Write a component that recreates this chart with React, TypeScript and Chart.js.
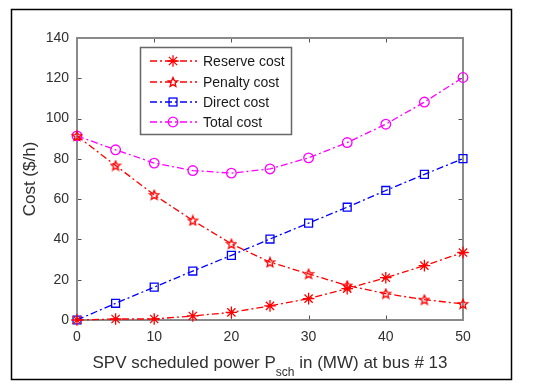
import React, { useEffect, useRef } from "react";
import { Chart, registerables } from "chart.js";

Chart.register(...registerables);

const xValues = [0, 5, 10, 15, 20, 25, 30, 35, 40, 45, 50];
const reserveCost = [0, 0.5, 0.5, 2, 3.8, 7, 10.6, 15.6, 21, 27, 33.5];
const penaltyCost = [91.4, 76.7, 62.1, 49.4, 37.8, 28.7, 22.9, 17.1, 13.1, 10.1, 8];
const directCost = [0, 8.3, 16.3, 24.3, 32.1, 40.2, 48.1, 56, 64.3, 72.3, 80.1];
const totalCost = [91.4, 84.5, 77.9, 74.2, 72.9, 75, 80.5, 88.1, 97.2, 108.2, 120.4];
const seriesLabels = ["Reserve cost", "Penalty cost", "Direct cost", "Total cost"];
const seriesColors = ["#ff0000", "#ff0000", "#0000ff", "#ff00ff"];
const xTickValues = [0, 10, 20, 30, 40, 50];
const yTickValues = [0, 20, 40, 60, 80, 100, 120, 140];
const yTitle = "Cost ($/h)";
const xTitleMain = "SPV scheduled power P";
const xTitleSub = "sch";
const xTitleRest = " in (MW) at bus # 13";

const FONT = "'Liberation Sans', Arial, Helvetica, sans-serif";
const DASH = [7, 3, 2, 3];
const TEXT = "#303030";

function makePentagram(color: string) {
  const size = 12;
  const c = document.createElement("canvas");
  c.width = size;
  c.height = size;
  const ctx = c.getContext("2d")!;
  ctx.strokeStyle = color;
  ctx.lineWidth = 1.3;
  ctx.beginPath();
  const r = 4.9;
  const cx = size / 2;
  const cy = size / 2 + 0.4;
  for (let i = 0; i < 10; i++) {
    const a = -Math.PI / 2 + (i * Math.PI) / 5;
    const rad = i % 2 ? r * 0.45 : r;
    const px = cx + Math.cos(a) * rad;
    const py = cy + Math.sin(a) * rad;
    if (i === 0) ctx.moveTo(px, py);
    else ctx.lineTo(px, py);
  }
  ctx.closePath();
  ctx.stroke();
  return c;
}

function drawMarker(ctx: CanvasRenderingContext2D, style: any, x: number, y: number, r: number, color: string) {
  ctx.save();
  ctx.strokeStyle = color;
  ctx.lineWidth = 1.3;
  ctx.setLineDash([]);
  if (typeof style !== "string") {
    ctx.drawImage(style, x - style.width / 2, y - style.height / 2);
  } else if (style === "star") {
    ctx.beginPath();
    for (let i = 0; i < 4; i++) {
      const a = (i * Math.PI) / 4;
      ctx.moveTo(x - Math.cos(a) * r, y - Math.sin(a) * r);
      ctx.lineTo(x + Math.cos(a) * r, y + Math.sin(a) * r);
    }
    ctx.stroke();
  } else if (style === "rect") {
    const h = r * Math.SQRT1_2;
    ctx.strokeRect(x - h, y - h, 2 * h, 2 * h);
  } else {
    ctx.beginPath();
    ctx.arc(x, y, r, 0, Math.PI * 2);
    ctx.stroke();
  }
  ctx.restore();
}

export default function App() {
  const ref = useRef<HTMLCanvasElement>(null);

  useEffect(() => {
    const pent = makePentagram("#ff0000");
    const styles: any[] = ["star", pent, "rect", "circle"];
    const radii = [5.8, 5.5, 5.6, 4.8];
    const seriesData = [reserveCost, penaltyCost, directCost, totalCost];

    const datasets = seriesData.map((vals, i) => ({
      label: seriesLabels[i],
      data: vals.map((v, j) => ({ x: xValues[j], y: v })),
      borderColor: seriesColors[i],
      backgroundColor: "rgba(0,0,0,0)",
      borderWidth: 1.3,
      borderDash: DASH,
      pointStyle: styles[i],
      pointRadius: radii[i],
      pointBorderWidth: 1.3,
      pointBorderColor: seriesColors[i],
      pointBackgroundColor: "rgba(0,0,0,0)",
      tension: 0,
      clip: false as any,
    }));

    const decor = {
      id: "decor",
      beforeDraw(chart: any) {
        const ctx = chart.ctx;
        ctx.save();
        ctx.fillStyle = "#ffffff";
        ctx.fillRect(0, 0, chart.width, chart.height);
        ctx.strokeStyle = "#000000";
        ctx.lineWidth = 1.5;
        ctx.strokeRect(11.5, 9.5, 500, 370);
        ctx.restore();
      },
      beforeDatasetsDraw(chart: any) {
        const ctx = chart.ctx;
        const { left, right, top, bottom } = chart.chartArea;
        const xs = chart.scales.x;
        const ys = chart.scales.y;
        ctx.save();
        ctx.strokeStyle = "#555555";
        ctx.lineWidth = 1;
        ctx.beginPath();
        const tl = 4.5;
        xTickValues.forEach((v) => {
          const px = Math.round(xs.getPixelForValue(v)) + 0.5;
          ctx.moveTo(px, bottom);
          ctx.lineTo(px, bottom - tl);
          ctx.moveTo(px, top);
          ctx.lineTo(px, top + tl);
        });
        yTickValues.forEach((v) => {
          const py = Math.round(ys.getPixelForValue(v)) + 0.5;
          ctx.moveTo(left, py);
          ctx.lineTo(left + tl, py);
          ctx.moveTo(right, py);
          ctx.lineTo(right - tl, py);
        });
        ctx.stroke();
        ctx.strokeStyle = "#8a8a8a";
        ctx.lineWidth = 2;
        ctx.strokeRect(left, top, right - left, bottom - top);
        ctx.restore();

        // axis titles
        ctx.save();
        ctx.fillStyle = TEXT;
        ctx.font = `17px ${FONT}`;
        ctx.textAlign = "center";
        ctx.textBaseline = "middle";
        ctx.translate(30, (top + bottom) / 2);
        ctx.rotate(-Math.PI / 2);
        ctx.fillText(yTitle, 0, 0);
        ctx.restore();

        ctx.save();
        ctx.fillStyle = TEXT;
        ctx.textBaseline = "alphabetic";
        ctx.textAlign = "left";
        ctx.font = `17px ${FONT}`;
        const w1 = ctx.measureText(xTitleMain).width;
        const w3 = ctx.measureText(xTitleRest).width;
        ctx.font = `12px ${FONT}`;
        const w2 = ctx.measureText(xTitleSub).width;
        const total = w1 + w2 + w3;
        let sx = (left + right) / 2 - total / 2;
        const base = 368;
        ctx.font = `17px ${FONT}`;
        ctx.fillText(xTitleMain, sx, base);
        sx += w1;
        ctx.font = `12px ${FONT}`;
        ctx.fillText(xTitleSub, sx, base + 8);
        sx += w2;
        ctx.font = `17px ${FONT}`;
        ctx.fillText(xTitleRest, sx, base);
        ctx.restore();
      },
      afterDatasetsDraw(chart: any) {
        const ctx = chart.ctx;
        ctx.save();
        const bx = 140.5, by = 47.5, bw = 151, bh = 87;
        ctx.fillStyle = "#ffffff";
        ctx.fillRect(bx, by, bw, bh);
        ctx.strokeStyle = "#666666";
        ctx.lineWidth = 1.5;
        ctx.strokeRect(bx, by, bw, bh);
        const rows = [61, 82, 102, 122];
        seriesLabels.forEach((lab, i) => {
          const y = rows[i];
          ctx.save();
          ctx.strokeStyle = seriesColors[i];
          ctx.lineWidth = 1.3;
          ctx.setLineDash(DASH);
          ctx.beginPath();
          ctx.moveTo(150, y);
          ctx.lineTo(197, y);
          ctx.stroke();
          ctx.restore();
          drawMarker(ctx, styles[i], 173, y, radii[i], seriesColors[i]);
          ctx.fillStyle = "#1a1a1a";
          ctx.font = `14px ${FONT}`;
          ctx.textAlign = "left";
          ctx.textBaseline = "middle";
          ctx.fillText(lab, 203, y + 1);
        });
        ctx.restore();
      },
    };

    const chart = new Chart(ref.current!, {
      type: "line",
      data: { datasets },
      options: {
        animation: false,
        responsive: false,
        devicePixelRatio: 1,
        layout: { padding: { left: 0, right: 87, top: 38, bottom: 0 } },
        plugins: { legend: { display: false }, tooltip: { enabled: false } },
        scales: {
          x: {
            type: "linear",
            min: 0,
            max: 50,
            afterFit: (s: any) => {
              s.height = 71;
            },
            afterBuildTicks: (s: any) => {
              s.ticks = xTickValues.map((v) => ({ value: v }));
            },
            ticks: { padding: 9, color: TEXT, font: { family: FONT, size: 14 } },
            grid: { display: false, drawTicks: false },
            border: { display: false },
          },
          y: {
            type: "linear",
            min: 0,
            max: 140,
            afterFit: (s: any) => {
              s.width = 77;
            },
            afterBuildTicks: (s: any) => {
              s.ticks = yTickValues.map((v) => ({ value: v }));
            },
            ticks: { padding: 8, color: TEXT, font: { family: FONT, size: 14 } },
            grid: { display: false, drawTicks: false },
            border: { display: false },
          },
        },
      } as any,
      plugins: [decor],
    });
    return () => chart.destroy();
  }, []);

  return (
    <div style={{ position: "absolute", left: 0, top: 0, width: 550, height: 391 }}>
      <canvas ref={ref} width={550} height={391} />
    </div>
  );
}
